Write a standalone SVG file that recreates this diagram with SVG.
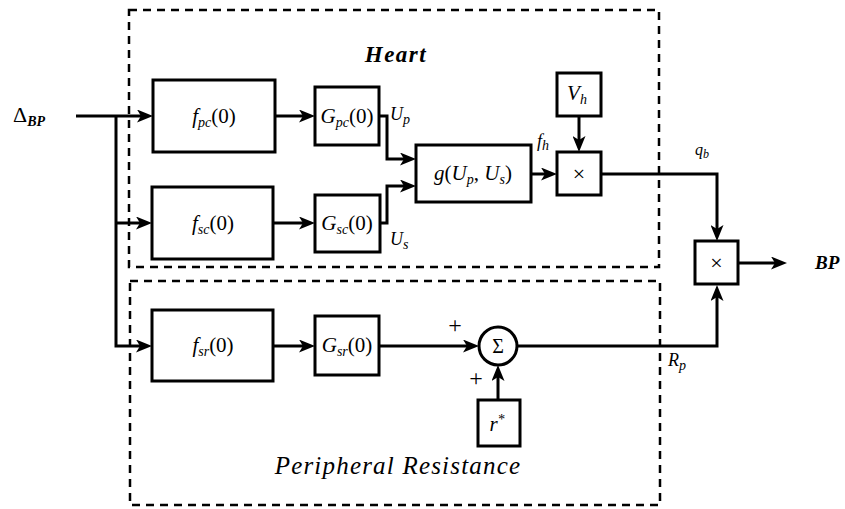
<svg xmlns="http://www.w3.org/2000/svg" width="845" height="509" viewBox="0 0 845 509" font-family="'Liberation Serif', 'DejaVu Serif', serif">
<style>
.blk{fill:#fff;stroke:#000;stroke-width:3}
.dash{fill:none;stroke:#000;stroke-width:2.5;stroke-dasharray:8 6}
.wire{fill:none;stroke:#000;stroke-width:3;marker-end:url(#ah)}
.m{font-style:italic;font-size:21px}
.lb{font-style:italic;font-size:18px}
.up{font-style:normal}
.sub{font-size:14px}
.ttl{font-style:italic;font-weight:bold;font-size:23px;letter-spacing:1.5px}
</style>
<defs>
<marker id="ah" markerUnits="userSpaceOnUse" viewBox="0 0 16 13" refX="10" refY="6.5" markerWidth="16" markerHeight="13" orient="auto">
<path d="M0,0 L16,6.5 L0,13 L4,6.5 z" fill="#000"/>
</marker>
</defs>

<g id="heart-region">
<rect class="dash" x="129" y="10" width="530" height="257"/>
<text class="ttl" x="396" y="62" text-anchor="middle" font-family="'Liberation Serif', 'DejaVu Serif', serif">Heart</text>
</g>
<g id="peripheral-region">
<rect class="dash" x="130" y="281" width="530" height="224"/>
<text x="398" y="474" text-anchor="middle" font-family="'Liberation Serif', 'DejaVu Serif', serif" style="font-style:italic;font-size:25px;letter-spacing:1.2px">Peripheral Resistance</text>
</g>

<g id="connectors">
<path class="wire" d="M76,116 H147"/>
<path class="wire" d="M116,116 V346 H146"/>
<path class="wire" d="M116,223 H146"/>
<path class="wire" d="M275,116 H309"/>
<path class="wire" d="M273,223 H309"/>
<path class="wire" d="M379,116 H387 V159 H410"/>
<path class="wire" d="M380,223 H387 V186 H410"/>
<path class="wire" d="M531,174 H551"/>
<path class="wire" d="M579,116 V146"/>
<path class="wire" d="M601,174 H717 V235"/>
<path class="wire" d="M738,263 H781"/>
<path class="wire" d="M273,346 H309"/>
<path class="wire" d="M379,346 H473"/>
<path class="wire" d="M498,400 V371"/>
<path class="wire" d="M517,346 H717 V291"/>
</g>

<g id="input" font-family="'Liberation Serif', 'DejaVu Serif', serif">
<text x="13" y="122" style="font-size:22px">Δ<tspan class="sub" dy="4" style="font-style:italic;font-weight:bold">BP</tspan></text>
</g>

<g id="fpc" font-family="'Liberation Serif', 'DejaVu Serif', serif">
<rect class="blk" x="153" y="80" width="122" height="72"/>
<text class="m" x="214" y="123" text-anchor="middle">f<tspan class="sub" dy="4">pc</tspan><tspan class="up" dy="-4">(0)</tspan></text>
</g>
<g id="Gpc" font-family="'Liberation Serif', 'DejaVu Serif', serif">
<rect class="blk" x="315" y="87" width="64" height="58"/>
<text class="m" x="347" y="123" text-anchor="middle">G<tspan class="sub" dy="4">pc</tspan><tspan class="up" dy="-4">(0)</tspan></text>
</g>
<g id="fsc" font-family="'Liberation Serif', 'DejaVu Serif', serif">
<rect class="blk" x="152" y="187" width="121" height="72"/>
<text class="m" x="213" y="230" text-anchor="middle">f<tspan class="sub" dy="4">sc</tspan><tspan class="up" dy="-4">(0)</tspan></text>
</g>
<g id="Gsc" font-family="'Liberation Serif', 'DejaVu Serif', serif">
<rect class="blk" x="315" y="195" width="65" height="57"/>
<text class="m" x="347" y="230" text-anchor="middle">G<tspan class="sub" dy="4">sc</tspan><tspan class="up" dy="-4">(0)</tspan></text>
</g>
<g id="label-Up" font-family="'Liberation Serif', 'DejaVu Serif', serif"><text class="lb" x="390" y="120">U<tspan class="sub" dy="4">p</tspan></text></g>
<g id="label-Us" font-family="'Liberation Serif', 'DejaVu Serif', serif"><text class="lb" x="390" y="245">U<tspan class="sub" dy="4">s</tspan></text></g>
<g id="g" font-family="'Liberation Serif', 'DejaVu Serif', serif">
<rect class="blk" x="416" y="145" width="115" height="57"/>
<text class="m" x="473" y="180" text-anchor="middle">g<tspan class="up">(</tspan>U<tspan class="sub" dy="4">p</tspan><tspan class="up" dy="-4">, </tspan>U<tspan class="sub" dy="4">s</tspan><tspan class="up" dy="-4">)</tspan></text>
</g>
<g id="label-fh" font-family="'Liberation Serif', 'DejaVu Serif', serif"><text class="lb" x="537" y="147">f<tspan class="sub" dy="3">h</tspan></text></g>
<g id="Vh" font-family="'Liberation Serif', 'DejaVu Serif', serif">
<rect class="blk" x="557" y="73" width="44" height="43"/>
<text class="m" x="577" y="100" text-anchor="middle">V<tspan class="sub" dy="4">h</tspan></text>
</g>
<g id="mult1" font-family="'Liberation Serif', 'DejaVu Serif', serif">
<rect class="blk" x="557" y="152" width="44" height="43"/>
<text x="579" y="181" text-anchor="middle" style="font-size:22px">×</text>
</g>
<g id="label-qb" font-family="'Liberation Serif', 'DejaVu Serif', serif"><text class="lb" x="695" y="155" style="font-size:16px">q<tspan dy="3" style="font-size:12px">b</tspan></text></g>
<g id="mult2" font-family="'Liberation Serif', 'DejaVu Serif', serif">
<rect class="blk" x="695" y="241" width="43" height="43"/>
<text x="716.5" y="270" text-anchor="middle" style="font-size:22px">×</text>
</g>
<g id="output" font-family="'Liberation Serif', 'DejaVu Serif', serif"><text x="815" y="269" style="font-style:italic;font-weight:bold;font-size:19px">BP</text></g>

<g id="fsr" font-family="'Liberation Serif', 'DejaVu Serif', serif">
<rect class="blk" x="152" y="310" width="121" height="71"/>
<text class="m" x="213" y="352" text-anchor="middle">f<tspan class="sub" dy="4">sr</tspan><tspan class="up" dy="-4">(0)</tspan></text>
</g>
<g id="Gsr" font-family="'Liberation Serif', 'DejaVu Serif', serif">
<rect class="blk" x="315" y="316" width="64" height="59"/>
<text class="m" x="347" y="352" text-anchor="middle">G<tspan class="sub" dy="4">sr</tspan><tspan class="up" dy="-4">(0)</tspan></text>
</g>
<g id="sum" font-family="'Liberation Serif', 'DejaVu Serif', serif">
<circle class="blk" cx="498" cy="346" r="19"/>
<text x="498" y="353" text-anchor="middle" style="font-size:20px">Σ</text>
<text x="455" y="333" text-anchor="middle" style="font-size:24px">+</text>
<text x="476" y="386" text-anchor="middle" style="font-size:24px">+</text>
</g>
<g id="rstar" font-family="'Liberation Serif', 'DejaVu Serif', serif">
<rect class="blk" x="478" y="400" width="42" height="46"/>
<text class="m" x="497" y="431" text-anchor="middle">r<tspan dy="-7" style="font-size:14px">*</tspan></text>
</g>
<g id="label-Rp" font-family="'Liberation Serif', 'DejaVu Serif', serif"><text class="lb" x="668" y="366">R<tspan class="sub" dy="4">p</tspan></text></g>
</svg>
